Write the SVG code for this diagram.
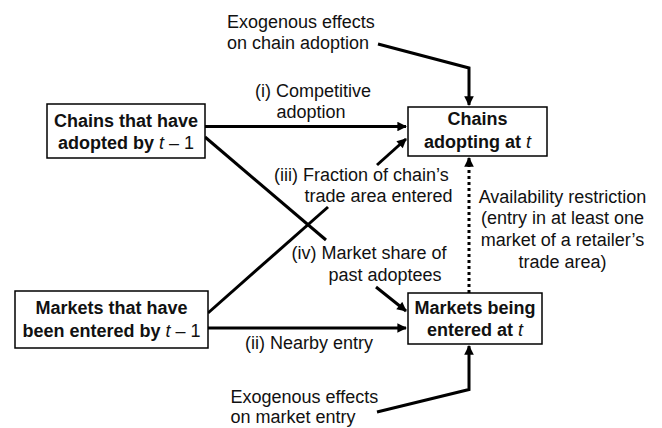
<svg xmlns="http://www.w3.org/2000/svg" width="662" height="428" viewBox="0 0 662 428">
<defs>
<marker id="ah" viewBox="0 0 10 10" refX="9" refY="5" markerWidth="3.6" markerHeight="3.2" orient="auto" markerUnits="strokeWidth">
<path d="M0,0 L10,5 L0,10 Z" fill="#000"/>
</marker>
<style>
text{font-family:"Liberation Sans",Arial,sans-serif;font-size:18px;fill:#111}
.b{font-weight:bold}
.c{text-anchor:middle}
.it{font-style:italic;font-weight:normal}
.rg{font-weight:normal}
rect{fill:#fff;stroke:#000;stroke-width:1.5}
.ln{fill:none;stroke:#000;stroke-width:3}
.ar{fill:none;stroke:#000;stroke-width:3;marker-end:url(#ah)}
.dt{fill:none;stroke:#000;stroke-width:3;stroke-dasharray:3 3;marker-end:url(#ah)}
</style>
</defs>
<g id="connectors">
<path class="ar" d="M205,126.5 L406,126.5"/>
<path class="ar" d="M208,328 L406,328"/>
<path class="ar" d="M378,44 L469,68 L469,105"/>
<path class="ar" d="M377,412 L469,389.5 L469,346"/>
<path class="dt" d="M469,293 L469,158"/>
<path class="ln" d="M208,313 L328,207"/>
<path class="ar" d="M377,165 L406,139"/>
<path class="ln" d="M205,137 L326,240"/>
<path class="ar" d="M376,287 L406,311"/>
</g>
<g id="chains-prev">
<rect x="47" y="104" width="158" height="54"/>
<text class="b c" x="126" y="126.5">Chains that have</text>
<text class="b c" x="126" y="148.5">adopted by <tspan class="it">t</tspan><tspan class="rg"> – 1</tspan></text>
</g>
<g id="chains-now">
<rect x="408" y="107" width="139" height="49"/>
<text class="b c" x="477.5" y="125">Chains</text>
<text class="b c" x="477.5" y="147.5">adopting at <tspan class="it">t</tspan></text>
</g>
<g id="markets-prev">
<rect x="15" y="291" width="193" height="57"/>
<text class="b c" x="111.5" y="314">Markets that have</text>
<text class="b c" x="111.5" y="337">been entered by <tspan class="it">t</tspan><tspan class="rg"> – 1</tspan></text>
</g>
<g id="markets-now">
<rect x="408" y="293" width="134" height="51"/>
<text class="b c" x="475" y="314">Markets being</text>
<text class="b c" x="475" y="336">entered at <tspan class="it">t</tspan></text>
</g>
<g id="labels">
<text x="227" y="27.5">Exogenous effects</text>
<text x="227" y="49">on chain adoption</text>
<text class="c" x="313" y="96.5">(i) Competitive</text>
<text class="c" x="311" y="118">adoption</text>
<text x="274" y="180.5">(iii) Fraction of chain’s</text>
<text x="304.5" y="201.5">trade area entered</text>
<text x="291.5" y="259">(iv) Market share of</text>
<text x="328.5" y="281">past adoptees</text>
<text x="245" y="349">(ii) Nearby entry</text>
<text x="230.5" y="403">Exogenous effects</text>
<text x="230.5" y="423">on market entry</text>
<text class="c" x="562.5" y="203">Availability restriction</text>
<text class="c" x="562.5" y="224">(entry in at least one</text>
<text class="c" x="562.5" y="245.5">market of a retailer’s</text>
<text class="c" x="562.5" y="267.5">trade area)</text>
</g>
</svg>
